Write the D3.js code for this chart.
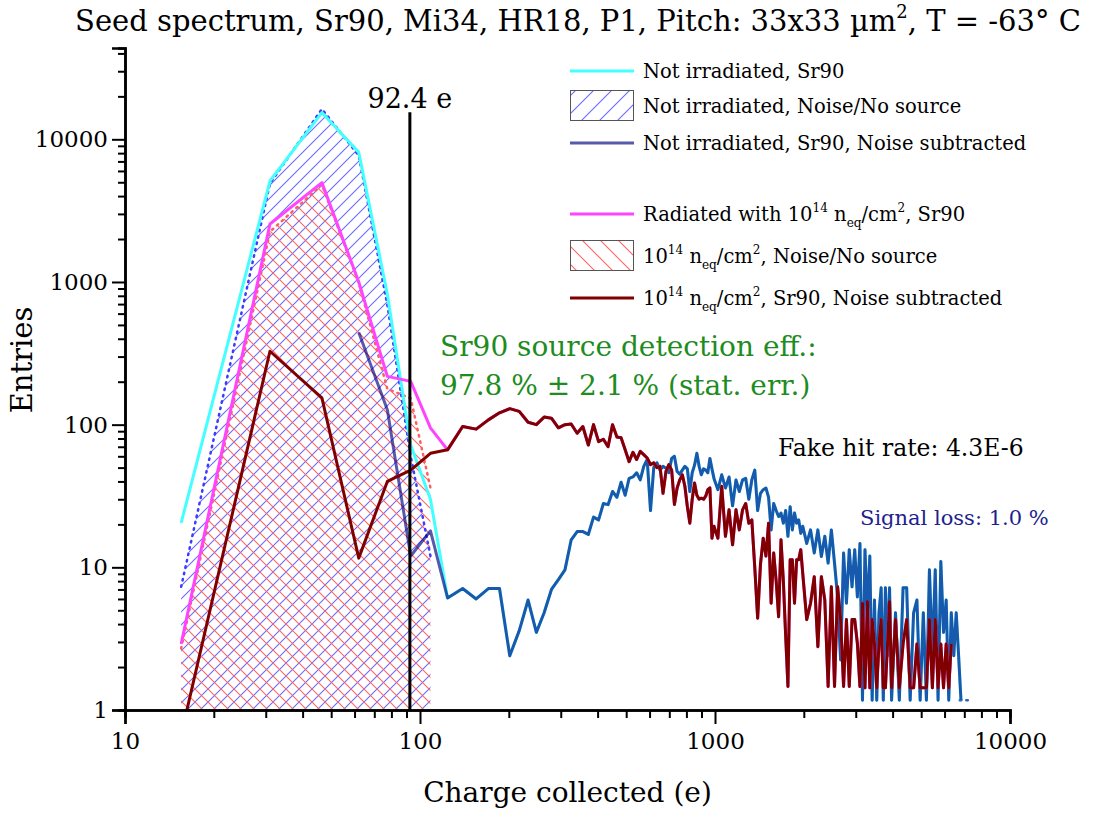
<!DOCTYPE html>
<html>
<head>
<meta charset="utf-8">
<script src="https://cdn.jsdelivr.net/npm/d3@7"></script>
<style>
  body { margin: 0; background: #fff; }
  text { font-family: "DejaVu Serif", serif; }
</style>
</head>
<body>
<svg id="chart" width="1101" height="816"></svg>
<script>
// ---- data ----
const binWidth = 15.5; // e per bin

// first seven bins: Sr90 runs and noise runs
const headBins = [1, 2, 3, 4, 5, 6, 7];
const notIrrSr90 = [20.5, 5100, 15400, 8100, 820, 72, 30];
const notIrrNoise = [7.3, 4900, 16300, 7700, 690, 60, 12];
const irrSr90 = [2.9, 2550, 4970, 1000, 218, 201, 95];
const irrNoise = [2.7, 2250, 4800, 990, 178, 153, 36];

// last few noise entries at the very end of the spectrum
const noiseTailBins = [436, 444, 452, 460, 468, 472];
const notIrrNoiseTail = [1.17, 1.17, 1.17, 1.17, 1.17, 1.17];

// noise subtracted spectra, sampled bins
const subBins = [
  1, 2, 3, 4, 5, 6, 7, 8, 9, 10, 11, 12, 13, 14, 15, 16, 17, 18, 19, 20,
  21, 22, 23, 24, 25, 26, 27, 28, 29, 30, 31, 32, 33, 34, 35, 36, 37, 38, 39, 40,
  41, 42, 43, 44, 45, 46, 47, 48, 49, 50, 51, 52, 53, 54, 55, 56, 57, 58, 59, 60,
  61, 62, 63, 64, 66, 68, 70, 72, 74, 76, 78, 80, 82, 84, 86, 88, 90, 92, 94, 96,
  98, 100, 102, 104, 106, 108, 110, 112, 114, 116, 118, 120, 122, 124, 126, 128,
  132, 136, 140, 144, 148, 152, 156, 160, 164, 168, 172, 176, 180, 184, 188, 192,
  196, 200, 204, 208, 212, 216, 220, 224, 228, 232, 236, 240, 244, 248, 252, 256,
  264, 272, 280, 288, 296, 304, 312, 320, 328, 336, 344, 352, 360, 368, 376, 384,
  392, 400, 408, 416, 424, 432, 440
];
const notIrrSub = [
  null, null, null, 442, 127, 12, 18, 6.1, 7.1, 6.0, 7.1, 7.1, 2.4, 3.6, 5.9, 3.5, 4.8, 7.0, 8.2, 9.6,
  15.6, 17.8, 17.8, 17, 22.5, 21.5, 28, 27.5, 34, 31, 39.5, 32, 42, 43, 46, 41, 51, 57, 25, 50,
  54, 48, 51, 49.5, 46, 58, 60, 47, 45, 48, 51, 49, 34, 46, 52, 63, 51, 44.5, 49, 48,
  46, 58, 49, 42, 35, 44.5, 36, 43, 27, 41, 34, 41, 42, 30, 41, 48, 25, 33, 35, 36,
  31, 18.3, 28, 25, 22.7, 24, 20.4, 25, 16.5, 26.6, 18.3, 24, 20.4, 21.5, 17.3, 19.4,
  14.7, 18.3, 12.6, 18.3, 11.9, 16.5, 10.7, 18.3, 10.7, 6.2, 2.24, 12.6, 5.6, 13.3, 7.3, 13.3,
  6.2, 14.7, 1.17, 13.3, 4.8, 12, 1.17, 5.9, 1.17, 4.8, 7.2, 1.17, 7.2, 2.4, 7.2, 1.17,
  4.8, 1.17, 7.2, 7.2, 1.17, 4.8, 5.9, 1.17, 4.8, 1.17, 9.6, 2.4, 9.6, 1.17, 11, 3.5,
  5.9, 1.17, 4.8, 2.4, 4.8, 2.4, 1.17
];
const irrSub = [
  0.67, 327, 154, 11.6, 40, 48, 63, 66.6, 97, 93, 108, 121, 129.5, 124, 104, 100, 113, 111, 95, 100,
  101, 87, 97, 72, 100, 76, 79, 70, 100, 82, 81, 66.6, 55, 64, 57, 65, 61.6, 58.4, 52.5, 54,
  50, 51, 33, 47, 52.5, 48, 27.6, 36, 41, 44.5, 37, 26.6, 20.4, 30, 39, 32, 30, 30.5, 30, 31.5,
  35, 36, 16, 19.4, 16, 37, 16.5, 25.3, 14.4, 25.3, 18.3, 25.3, 28, 20.4, 21.5, 10, 4.4, 10.5, 16, 12,
  20.4, 5.6, 12.6, 8, 4.5, 15.6, 8, 3.3, 1.46, 11.3, 11.3, 5.6, 11.3, 11.3, 13.3, 9,
  4.3, 5.6, 8.6, 2.78, 8.6, 5.9, 1.46, 7.3, 1.46, 7.3, 4.3, 1.46, 4.3, 1.46, 4.3, 4.3,
  2.93, 1.46, 5.6, 1.43, 5.75, 1.43, 4.3, 2.9, 1.43, 2.9, 4.3, 1.43, 1.43, 2.9, 5.75, 1.43,
  4.3, 1.43, 2.9, 4.3, 1.43, 1.43, 2.9, 1.43, 1.43, 1.43, 4.3, 1.43, 4.3, 1.43, 2.9, 1.43,
  2.9, 1.43, 2.9, null, null, null, null
];

const cutCharge = 92.4;   // threshold line
const cutTop = 15500;

const xMajor = [10, 100, 1000, 10000];
const yMajor = [1, 10, 100, 1000, 10000];

// ---- layout ----
const W = 1101, H = 816;
const margin = {top: 48, left: 125, right: 90, bottom: 106};

const svg = d3.select('#chart');

const x = d3.scaleLog().domain([10, 10000]).range([margin.left, W - margin.right - 1]);
const y = d3.scaleLog().domain([1, 43650]).range([H - margin.bottom, margin.top]);

const defs = svg.append('defs');
defs.append('clipPath').attr('id', 'plotClip')
  .append('rect')
  .attr('x', margin.left).attr('y', margin.top)
  .attr('width', W - margin.left - margin.right)
  .attr('height', H - margin.top - margin.bottom);

function hatch(id, size, color, dir) {
  const p = defs.append('pattern').attr('id', id)
    .attr('patternUnits', 'userSpaceOnUse')
    .attr('width', size).attr('height', size);
  const d = dir === '/'
    ? `M-1,1 l2,-2 M0,${size} l${size},-${size} M${size - 1},${size + 1} l2,-2`
    : `M-1,${size - 1} l2,2 M0,0 l${size},${size} M${size - 1},-1 l2,2`;
  p.append('path').attr('d', d).attr('stroke', color).attr('stroke-width', 1.1).attr('fill', 'none');
}
hatch('hatchBlue', 13, '#6a6aff', '/');
hatch('hatchRed', 13, '#ff6464', '\\');
hatch('legBlue', 18, '#6a6aff', '/');
hatch('legRed', 18, '#ff6464', '\\');

const pts = (bins, vals) => bins.map((b, i) => ({q: b * binWidth, v: vals[i]}));

const head = {
  notIrr: pts(headBins, notIrrSr90),
  notIrrNoise: pts(headBins, notIrrNoise),
  irr: pts(headBins, irrSr90),
  irrNoise: pts(headBins, irrNoise)
};
const blueSub = pts(subBins, notIrrSub);
const redSub = pts(subBins, irrSub);
const lastHead = headBins[headBins.length - 1] * binWidth;
const cyanPts = head.notIrr.concat(blueSub.filter(d => d.q > lastHead && d.v != null));
const magentaPts = head.irr.concat(redSub.filter(d => d.q > lastHead && d.v != null));

const line = d3.line().defined(d => d.v != null).x(d => x(d.q)).y(d => y(d.v));
const area = d3.area().x(d => x(d.q)).y0(y(1)).y1(d => y(d.v));

const plot = svg.append('g').attr('clip-path', 'url(#plotClip)');

// noise histograms (hatched)
plot.append('path').datum(head.notIrrNoise).attr('d', area).attr('fill', 'url(#hatchBlue)');
plot.append('path').datum(head.irrNoise).attr('d', area).attr('fill', 'url(#hatchRed)');
const dotted = (data, color) => plot.append('path').datum(data).attr('d', line)
  .attr('fill', 'none').attr('stroke', color).attr('stroke-width', 2.5)
  .attr('stroke-dasharray', '1.5,5').attr('stroke-linecap', 'round');
dotted(head.notIrrNoise, '#3c3cff');
dotted(head.irrNoise, '#ff5e5e');
dotted(pts(noiseTailBins, notIrrNoiseTail), '#2f5fc0');

// Sr90 spectra
plot.append('path').datum(cyanPts).attr('d', line)
  .attr('fill', 'none').attr('stroke', '#44ffff').attr('stroke-width', 3).attr('stroke-linejoin', 'round');
plot.append('path').datum(blueSub).attr('d', line)
  .attr('fill', 'none').attr('stroke', '#000080').attr('stroke-opacity', 0.65)
  .attr('stroke-width', 3).attr('stroke-linejoin', 'round');
plot.append('path').datum(magentaPts).attr('d', line)
  .attr('fill', 'none').attr('stroke', '#ff44ff').attr('stroke-width', 3).attr('stroke-linejoin', 'round');
plot.append('path').datum(redSub).attr('d', line)
  .attr('fill', 'none').attr('stroke', '#800000').attr('stroke-width', 3).attr('stroke-linejoin', 'round');

// threshold line
svg.append('line')
  .attr('x1', x(cutCharge)).attr('x2', x(cutCharge))
  .attr('y1', y(1)).attr('y2', y(cutTop))
  .attr('stroke', '#000').attr('stroke-width', 3);
svg.append('text').attr('x', x(cutCharge)).attr('y', y(cutTop) - 4)
  .attr('text-anchor', 'middle').attr('font-size', 27).text(cutCharge + ' e');

// ---- axes ----
const decadeMinors = (lo, hi, max) => {
  const out = [];
  for (let p = lo; p < hi; p++) for (let k = 2; k <= 9; k++) if (k * 10 ** p <= max) out.push(k * 10 ** p);
  return out;
};

const xAxisG = svg.append('g').attr('transform', `translate(0,${y(1)})`);
xAxisG.append('g').call(d3.axisBottom(x).tickValues(decadeMinors(1, 4, 10000)).tickSize(8).tickFormat(''));
xAxisG.append('g').call(d3.axisBottom(x).tickValues(xMajor).tickSize(14).tickPadding(9).tickFormat(d3.format('d')));

const yAxisG = svg.append('g').attr('transform', `translate(${x(10)},0)`);
yAxisG.append('g').call(d3.axisLeft(y).tickValues(decadeMinors(0, 5, 43000)).tickSize(7).tickFormat(''));
yAxisG.append('g').call(d3.axisLeft(y).tickValues(yMajor).tickSize(13).tickPadding(4).tickFormat(d3.format('d')));

svg.selectAll('.domain').attr('stroke', '#000').attr('stroke-width', 2.5);
svg.selectAll('.tick line').attr('stroke', '#000').attr('stroke-width', 2);
svg.selectAll('.tick text').attr('font-family', '"DejaVu Serif", serif').attr('font-size', 23).attr('fill', '#000');

// ---- text ----
function rich(sel, parts, size) {
  let shift = 0;
  parts.forEach(([t, kind]) => {
    const target = kind === 'sup' ? -0.45 * size : kind === 'sub' ? 0.3 * size : 0;
    const ts = sel.append('tspan').attr('dy', target - shift).text(t);
    if (kind) ts.attr('font-size', size * 0.62);
    shift = target;
  });
  if (shift !== 0) sel.append('tspan').attr('dy', -shift).text('\u200b');
}

const title = svg.append('text').attr('x', 578).attr('y', 31).attr('text-anchor', 'middle').attr('font-size', 29);
rich(title, [['Seed spectrum, Sr90, Mi34, HR18, P1, Pitch: 33x33 \u00b5m'], ['2', 'sup'], [', T = -63\u00b0 C']], 29);

svg.append('text').attr('transform', 'translate(32,360) rotate(-90)')
  .attr('text-anchor', 'middle').attr('font-size', 29).text('Entries');
svg.append('text').attr('x', (x(10) + x(10000)) / 2).attr('y', 802)
  .attr('text-anchor', 'middle').attr('font-size', 28).text('Charge collected (e)');

svg.append('text').attr('x', 440).attr('y', 356).attr('font-size', 28).attr('fill', '#1e8c1e')
  .text('Sr90 source detection eff.:');
svg.append('text').attr('x', 440).attr('y', 395).attr('font-size', 28).attr('fill', '#1e8c1e')
  .text('97.8 % \u00b1 2.1 % (stat. err.)');
svg.append('text').attr('x', 778).attr('y', 456).attr('font-size', 23.5).attr('fill', '#000')
  .text('Fake hit rate: 4.3E-6');
svg.append('text').attr('x', 860).attr('y', 525).attr('font-size', 21).attr('fill', '#1f1f8f')
  .text('Signal loss: 1.0 %');

// ---- legend ----
const legendRows = [
  {y: 71, kind: 'line', color: '#44ffff', parts: [['Not irradiated, Sr90']]},
  {y: 106, kind: 'box', fill: 'url(#legBlue)', parts: [['Not irradiated, Noise/No source']]},
  {y: 143, kind: 'line', color: '#000080', opacity: 0.65, parts: [['Not irradiated, Sr90, Noise subtracted']]},
  {y: 214, kind: 'line', color: '#ff44ff', parts: [['Radiated with 10'], ['14', 'sup'], [' n'], ['eq', 'sub'], ['/cm'], ['2', 'sup'], [', Sr90']]},
  {y: 256, kind: 'box', fill: 'url(#legRed)', parts: [['10'], ['14', 'sup'], [' n'], ['eq', 'sub'], ['/cm'], ['2', 'sup'], [', Noise/No source']]},
  {y: 298, kind: 'line', color: '#800000', parts: [['10'], ['14', 'sup'], [' n'], ['eq', 'sub'], ['/cm'], ['2', 'sup'], [', Sr90, Noise subtracted']]}
];
const leg = svg.append('g');
legendRows.forEach(r => {
  if (r.kind === 'line') {
    leg.append('line').attr('x1', 570).attr('x2', 634).attr('y1', r.y).attr('y2', r.y)
      .attr('stroke', r.color).attr('stroke-opacity', r.opacity || 1).attr('stroke-width', 3);
  } else {
    leg.append('rect').attr('x', 570.5).attr('y', r.y - 15.5).attr('width', 63).attr('height', 30)
      .attr('fill', r.fill).attr('stroke', '#555').attr('stroke-width', 1);
  }
  const t = leg.append('text').attr('x', 643).attr('y', r.y + 7).attr('font-size', 19.5);
  rich(t, r.parts, 19.5);
});
</script>
</body>
</html>
